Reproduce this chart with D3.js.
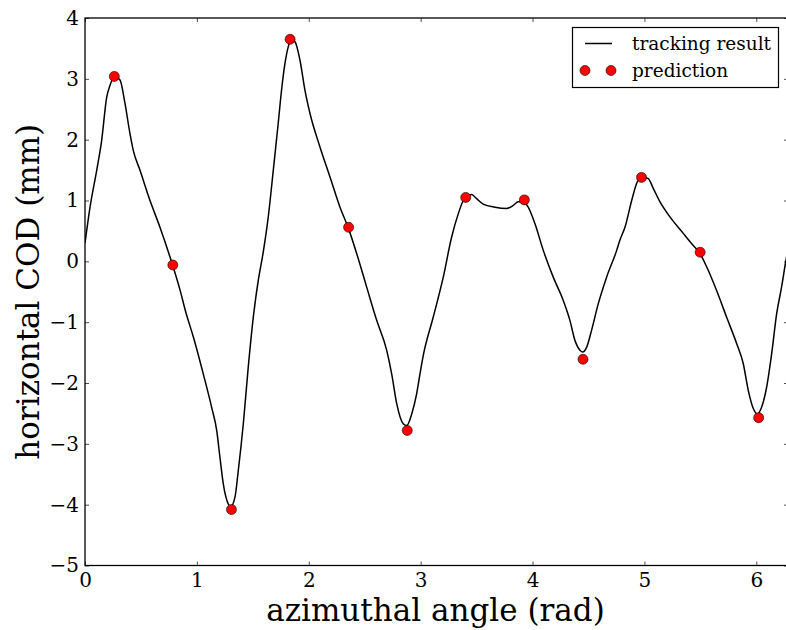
<!DOCTYPE html>
<html>
<head>
<meta charset="utf-8">
<script src="https://cdn.jsdelivr.net/npm/d3@7/dist/d3.min.js"></script>
<style>
html,body{margin:0;padding:0;background:#fff;}
svg{display:block;}
text{font-family:"DejaVu Serif",serif;fill:#000;}
</style>
</head>
<body>
<svg id="chart" width="786" height="630"></svg>
<script>
// tracking result curve (angle rad, COD mm)
const trackX = [0.000,0.045,0.105,0.149,0.194,0.223,0.262,0.313,0.357,0.402,0.432,0.491,0.581,0.670,0.760,0.849,0.903,0.968,1.057,1.132,1.177,1.206,1.236,1.281,1.302,1.340,1.370,1.415,1.459,1.504,1.549,1.593,1.638,1.683,1.727,1.757,1.787,1.817,1.841,1.877,1.921,1.966,2.011,2.100,2.189,2.279,2.353,2.428,2.517,2.607,2.696,2.741,2.786,2.844,2.875,2.920,2.964,2.994,3.023,3.112,3.202,3.277,3.336,3.381,3.405,3.456,3.500,3.559,3.664,3.769,3.828,3.872,3.917,3.961,4.021,4.096,4.185,4.274,4.334,4.379,4.424,4.448,4.484,4.528,4.587,4.662,4.752,4.781,4.826,4.886,4.930,4.975,5.034,5.079,5.138,5.228,5.347,5.436,5.496,5.556,5.645,5.735,5.824,5.883,5.928,5.973,6.008,6.047,6.092,6.137,6.182,6.226,6.265,6.283];
const trackY = [0.30,0.89,1.50,1.99,2.70,2.89,3.04,2.98,2.60,2.10,1.82,1.50,1.00,0.56,0.07,-0.47,-0.85,-1.24,-1.85,-2.40,-2.78,-3.22,-3.66,-3.99,-4.03,-3.88,-3.44,-2.67,-1.74,-0.92,-0.31,0.15,0.73,1.50,2.27,2.82,3.25,3.53,3.65,3.61,3.31,2.81,2.43,1.88,1.39,0.89,0.55,0.13,-0.42,-0.97,-1.46,-1.85,-2.34,-2.67,-2.70,-2.51,-2.18,-1.85,-1.55,-0.92,-0.26,0.40,0.78,1.00,1.06,1.10,1.03,0.94,0.89,0.87,0.92,0.98,0.98,0.89,0.62,0.18,-0.26,-0.64,-0.97,-1.30,-1.46,-1.49,-1.41,-1.13,-0.70,-0.26,0.18,0.35,0.56,1.00,1.28,1.39,1.36,1.20,0.98,0.73,0.46,0.26,0.13,-0.09,-0.48,-0.92,-1.35,-1.68,-2.12,-2.42,-2.51,-2.40,-2.07,-1.52,-0.86,-0.42,0.02,0.20];
// prediction points
const predX = [0.262,0.785,1.309,1.833,2.356,2.880,3.403,3.927,4.451,4.974,5.498,6.021];
const predY = [3.04,-0.06,-4.08,3.65,0.56,-2.78,1.05,1.01,-1.61,1.38,0.15,-2.57];
// ticks
const xTicks = [0,1,2,3,4,5,6];
const yTicks = [-5,-4,-3,-2,-1,0,1,2,3,4];
const seriesNames = ["tracking result","prediction"];
const xLabel = "azimuthal angle (rad)";
const yLabel = "horizontal COD (mm)";

const L = 85, R = 788, T = 18, B = 565.5;
const svg = d3.select("#chart");
const x = d3.scaleLinear().domain([0, 2*Math.PI]).range([L, R]);
const y = d3.scaleLinear().domain([-5, 4]).range([B, T]);

svg.append("defs").append("clipPath").attr("id","clip")
  .append("rect").attr("x",L).attr("y",T).attr("width",R-L).attr("height",B-T);

// curve
const track = trackX.map((d,i)=>[d,trackY[i]]);
svg.append("path").datum(track)
  .attr("clip-path","url(#clip)")
  .attr("fill","none").attr("stroke","#000").attr("stroke-width",1.5)
  .attr("d", d3.line().x(d=>x(d[0])).y(d=>y(d[1])).curve(d3.curveMonotoneX));

// points
svg.append("g").selectAll("circle").data(predX.map((d,i)=>[d,predY[i]])).join("circle")
  .attr("cx",d=>x(d[0])).attr("cy",d=>y(d[1])).attr("r",5)
  .attr("fill","#ff0000").attr("stroke","#000").attr("stroke-width",0.6);

// axes (ticks inward, all four sides)
const tickStyle = g => { g.select(".domain").remove(); g.selectAll(".tick line").attr("stroke","#000").attr("stroke-width",0.7); };
svg.append("g").attr("transform",`translate(0,${B})`)
  .call(d3.axisBottom(x).tickValues(xTicks).tickSizeInner(-4).tickSizeOuter(0).tickPadding(7).tickFormat(d3.format("d")))
  .call(tickStyle)
  .call(g=>g.selectAll("text").attr("font-size",20).attr("font-family","DejaVu Serif"));
svg.append("g").attr("transform",`translate(0,${T})`)
  .call(d3.axisTop(x).tickValues(xTicks).tickSizeInner(-4).tickSizeOuter(0).tickFormat(""))
  .call(tickStyle);
svg.append("g").attr("transform",`translate(${L},0)`)
  .call(d3.axisLeft(y).tickValues(yTicks).tickSizeInner(-4).tickSizeOuter(0).tickPadding(6).tickFormat(d=>d<0?"\u2212"+Math.abs(d):d))
  .call(tickStyle)
  .call(g=>g.selectAll("text").attr("font-size",20).attr("font-family","DejaVu Serif"));
svg.append("g").attr("transform",`translate(${R},0)`)
  .call(d3.axisRight(y).tickValues(yTicks).tickSizeInner(-4).tickSizeOuter(0).tickFormat(""))
  .call(tickStyle);

// frame
svg.append("rect").attr("x",L).attr("y",T).attr("width",R-L).attr("height",B-T)
  .attr("fill","none").attr("stroke","#000").attr("stroke-width",1.3);

// axis labels
svg.append("text").attr("x",(L+R)/2 - 1).attr("y",621).attr("text-anchor","middle")
  .attr("font-size",31).text(xLabel);
svg.append("text").attr("transform",`translate(39,${(T+B)/2}) rotate(-90)`).attr("text-anchor","middle")
  .attr("font-size",31).text(yLabel);

// legend
const lg = svg.append("g");
lg.append("rect").attr("x",572.5).attr("y",27.5).attr("width",206).attr("height",60)
  .attr("fill","#fff").attr("stroke","#000").attr("stroke-width",1.2);
lg.append("line").attr("x1",585).attr("x2",612).attr("y1",43.5).attr("y2",43.5)
  .attr("stroke","#000").attr("stroke-width",1.5);
lg.selectAll("circle").data([585,611]).join("circle")
  .attr("cx",d=>d).attr("cy",70.5).attr("r",5)
  .attr("fill","#ff0000").attr("stroke","#000").attr("stroke-width",0.6);
lg.append("text").attr("x",632).attr("y",49.5).attr("font-size",18.5).text(seriesNames[0]);
lg.append("text").attr("x",632).attr("y",77).attr("font-size",18.5).text(seriesNames[1]);
</script>
</body>
</html>
